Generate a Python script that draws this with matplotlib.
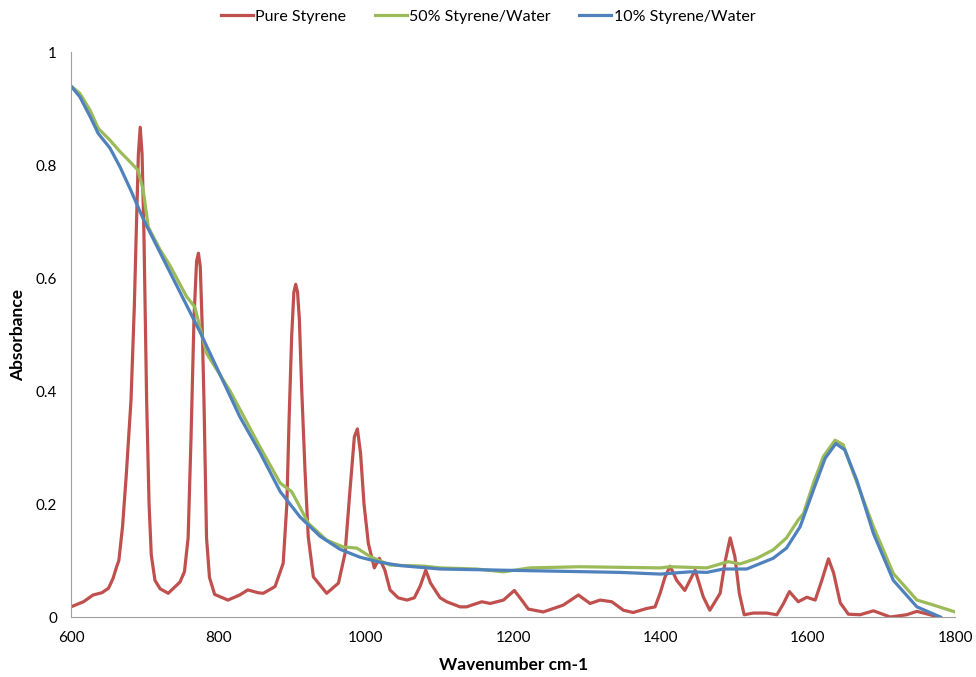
import matplotlib
matplotlib.use('Agg')
import matplotlib.pyplot as plt

# values
pure_x = [600, 617, 630, 642, 651, 657, 662, 665, 670, 675, 681.5, 686, 689, 691.5, 694, 696.5, 699,
          702.7, 706, 709, 714, 721, 732, 748, 754, 759, 763, 767, 770.5, 773, 775.5, 778, 780.5, 784,
          788, 795, 813, 829, 840, 854, 861, 877, 888, 893, 896, 899.5, 902.5, 905, 907.5, 910, 913,
          917.6, 922, 929, 947, 963, 972, 979, 984.6, 988.7, 993, 997.7, 1003.6, 1011.7, 1018.5,
          1026, 1033, 1044, 1056, 1066, 1074, 1081.5, 1088, 1101, 1110, 1128, 1137, 1157.5, 1169,
          1187, 1201.7, 1211.7, 1220.7, 1241, 1268, 1288.6, 1304.5, 1318, 1334, 1349.7, 1363, 1381,
          1392.7, 1399.5, 1406, 1413, 1422, 1433, 1447, 1458, 1467, 1481, 1488, 1494.6, 1501, 1507,
          1513.6, 1526, 1544, 1558, 1567, 1575, 1587, 1598.6, 1610, 1619, 1628, 1635, 1644, 1655,
          1671, 1689, 1712, 1734, 1748, 1766, 1777]
pure_y = [0.018, 0.027, 0.039, 0.043, 0.051, 0.068, 0.089, 0.10, 0.16, 0.25, 0.384, 0.55, 0.70, 0.82,
          0.867, 0.82, 0.68, 0.384, 0.20, 0.11, 0.065, 0.05, 0.042, 0.062, 0.08, 0.14, 0.32, 0.53, 0.63,
          0.644, 0.62, 0.52, 0.384, 0.14, 0.07, 0.04, 0.03, 0.039, 0.048, 0.043, 0.042, 0.054, 0.095,
          0.20, 0.349, 0.496, 0.575, 0.589, 0.575, 0.526, 0.408, 0.26, 0.142, 0.071, 0.042, 0.06,
          0.113, 0.23, 0.319, 0.333, 0.29, 0.20, 0.13, 0.087, 0.104, 0.083, 0.048, 0.034, 0.03, 0.034,
          0.055, 0.083, 0.06, 0.034, 0.027, 0.018, 0.018, 0.027, 0.024, 0.03, 0.047, 0.03, 0.014,
          0.009, 0.021, 0.039, 0.024, 0.03, 0.027, 0.012, 0.008, 0.015, 0.018, 0.042, 0.07, 0.09,
          0.065, 0.047, 0.083, 0.036, 0.012, 0.042, 0.10, 0.14, 0.107, 0.042, 0.004, 0.007, 0.007,
          0.004, 0.024, 0.045, 0.027, 0.035, 0.03, 0.065, 0.103, 0.078, 0.025, 0.005, 0.004, 0.011,
          0.0, 0.004, 0.01, 0.004, 0.0]

sty50_x = [600, 612, 626, 637, 653, 666.5, 680, 691, 698, 705, 721, 734, 757, 768, 775, 784, 816, 857,
           884, 899.5, 908.6, 922, 947, 969.6, 988, 1006, 1033, 1080, 1101, 1150, 1187, 1223, 1291,
           1345, 1400, 1413, 1463, 1492, 1508, 1531, 1553, 1571, 1587, 1594, 1607.6, 1621, 1637,
           1648, 1662, 1689, 1716, 1748, 1766, 1800]
sty50_y = [0.94, 0.927, 0.897, 0.865, 0.844, 0.824, 0.806, 0.791, 0.756, 0.69, 0.65, 0.623, 0.567,
           0.549, 0.513, 0.467, 0.40, 0.30, 0.237, 0.222, 0.20, 0.166, 0.136, 0.124, 0.122, 0.107,
           0.092, 0.090, 0.087, 0.085, 0.080, 0.087, 0.089, 0.088, 0.087, 0.089, 0.087, 0.098,
           0.094, 0.104, 0.119, 0.14, 0.172, 0.183, 0.237, 0.284, 0.313, 0.305, 0.254, 0.16, 0.077,
           0.03, 0.023, 0.009]

sty10_x = [600, 612, 626, 637, 653, 666.5, 680, 698, 721, 748, 775, 802, 829, 857, 884, 911, 938, 965,
           992, 1019, 1047, 1101, 1182, 1264, 1345, 1400, 1440, 1463, 1485.5, 1517, 1553, 1571,
           1589.6, 1607.6, 1623.5, 1638, 1650, 1666.5, 1689, 1716, 1748, 1780]
sty10_y = [0.94, 0.921, 0.886, 0.856, 0.83, 0.797, 0.759, 0.705, 0.645, 0.575, 0.505, 0.43, 0.355,
           0.29, 0.222, 0.177, 0.143, 0.12, 0.106, 0.097, 0.091, 0.085, 0.083, 0.081, 0.079, 0.076,
           0.08, 0.079, 0.085, 0.085, 0.104, 0.122, 0.16, 0.225, 0.281, 0.307, 0.296, 0.242, 0.148,
           0.065, 0.018, 0.0]

plt.rcParams['font.family'] = ['Lato', 'DejaVu Sans']

fig = plt.figure(figsize=(9.76, 6.77), dpi=100)
ax = fig.add_axes([0.0727, 0.0886, 0.906, 0.8344])

ax.plot(pure_x, pure_y, color='#C0504D', lw=2.3, label='Pure Styrene', solid_joinstyle='round')
ax.plot(sty50_x, sty50_y, color='#9BBB59', lw=2.3, label='50% Styrene/Water', solid_joinstyle='round')
ax.plot(sty10_x, sty10_y, color='#4F81BD', lw=2.3, label='10% Styrene/Water', solid_joinstyle='round')

ax.set_xlim(600, 1800)
ax.set_ylim(0, 1)
ax.set_xticks(range(600, 1801, 200))
ax.set_yticks([0, 0.2, 0.4, 0.6, 0.8, 1])
ax.set_yticklabels(['0', '0.2', '0.4', '0.6', '0.8', '1'])
ax.tick_params(length=0, labelsize=11, pad=10)

for s in ['top', 'right']:
    ax.spines[s].set_visible(False)
for s in ['left', 'bottom']:
    ax.spines[s].set_color('#A0A0A0')

ax.set_xlabel('Wavenumber cm-1', fontsize=12.5, fontweight='bold', labelpad=9)
ax.set_ylabel('Absorbance', fontsize=12.5, fontweight='bold', labelpad=7)

fig.legend(loc='center', bbox_to_anchor=(0.5, 1 - 17 / 677), ncol=3, frameon=False,
           fontsize=11.5, handlelength=2.0, handletextpad=0.15, columnspacing=1.8)

fig.savefig('out.png', dpi=100)
